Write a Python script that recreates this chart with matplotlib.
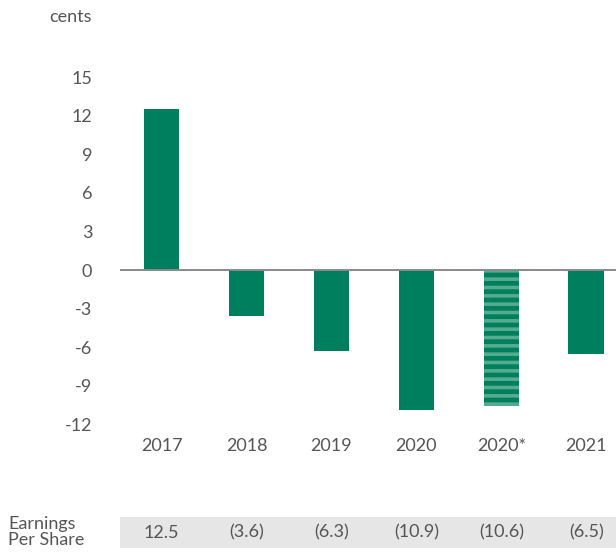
import matplotlib.pyplot as plt

# Data
years = ["2017", "2018", "2019", "2020", "2020*", "2021"]
eps = [12.5, -3.6, -6.3, -10.9, -10.6, -6.5]
eps_labels = ["12.5", "(3.6)", "(6.3)", "(10.9)", "(10.6)", "(6.5)"]
yticks = [15, 12, 9, 6, 3, 0, -3, -6, -9, -12]

green = "#007F5F"
light_green = "#55AB8E"
text_col = "#555555"

plt.rcParams['font.family'] = ['Lato', 'DejaVu Sans']
plt.rcParams['hatch.linewidth'] = 2.6

fig = plt.figure(figsize=(6.16, 5.52), dpi=100)
ax = fig.add_axes([120 / 616, 1 - 429.5 / 552, 496 / 616, 360 / 552])

x = list(range(len(years)))
bars = ax.bar(x, eps, width=0.42, color=green, linewidth=0)
bars[4].set_hatch("--")
bars[4].set_edgecolor(light_green)

ax.axhline(0, color="#8a8a8a", linewidth=1.4, zorder=3)
ax.set_xlim(-0.49, 5.35)
ax.set_ylim(-12.4, 15.6)

ax.set_yticks(yticks)
ax.set_yticklabels([str(v) for v in yticks])
ax.set_xticks(x)
ax.set_xticklabels(years)
for sp in ax.spines.values():
    sp.set_visible(False)
ax.tick_params(axis="both", length=0, labelsize=13, labelcolor=text_col)
ax.tick_params(axis="y", pad=20)
ax.tick_params(axis="x", pad=6)

fig.text(92 / 616, 1 - 17 / 552, "cents", ha="right", va="center", fontsize=13, color=text_col)

# table row
tax = fig.add_axes([120 / 616, 1 - 548 / 552, 496 / 616, 31 / 552], sharex=ax)
tax.set_facecolor("#e6e6e6")
tax.set_ylim(0, 1)
for xi, lab in zip(x, eps_labels):
    tax.text(xi, 0.5, lab, ha="center", va="center", fontsize=13, color=text_col)
tax.set_yticks([])
tax.tick_params(axis="x", length=0, labelbottom=False)
for sp in tax.spines.values():
    sp.set_visible(False)
fig.text(8 / 616, 1 - 532 / 552, "Earnings\nPer Share", ha="left", va="center",
         fontsize=13, color=text_col, linespacing=1.05)

fig.savefig("out.png", dpi=100)
